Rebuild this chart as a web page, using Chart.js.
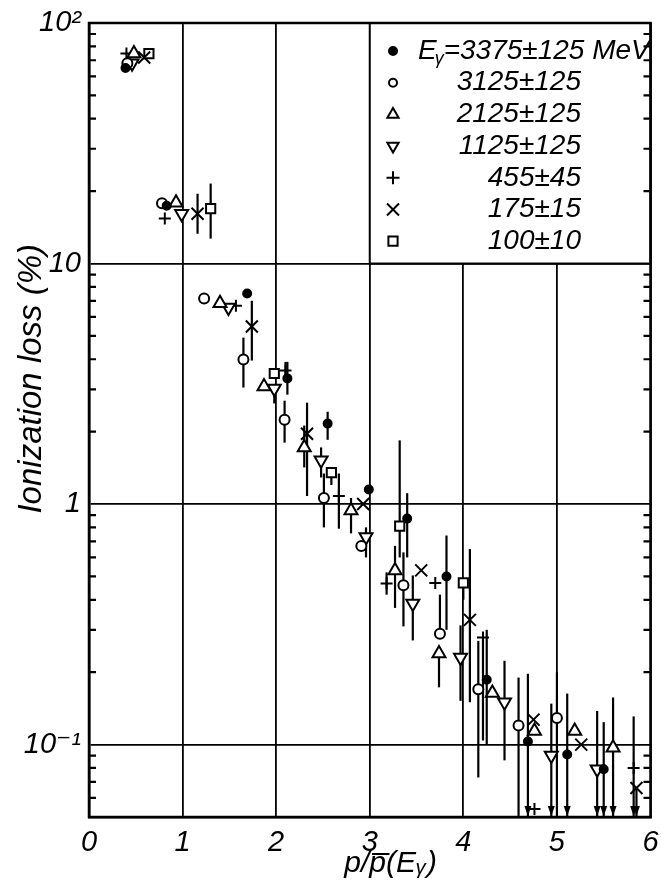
<!DOCTYPE html>
<html>
<head>
<meta charset="utf-8">
<script src="https://cdn.jsdelivr.net/npm/chart.js@4.4.0/dist/chart.umd.min.js"></script>
<style>
  html, body { margin: 0; padding: 0; background: #fff; }
</style>
</head>
<body>
<canvas id="lossChart" width="661" height="885"></canvas>
<script>
// axis ticks
var xTickValues = [0, 1, 2, 3, 4, 5, 6];
var yTickValues = [0.1, 1, 10, 100];
var yTickLabels = ["10\u207B\u00B9", "1", "10", "10\u00B2"];

// legend: photon energy bins (MeV)
var energies = ["3375\u00B1125", "3125\u00B1125", "2125\u00B1125", "1125\u00B1125", "455\u00B145", "175\u00B115", "100\u00B110"];

// errLo: null = no bar below, 0 = upper limit (arrow to axis), 0.05 = bar to axis
var e3375X = [0.39, 0.83, 1.69, 2.12, 2.55, 2.99, 3.40, 3.82, 4.25, 4.69, 5.11, 5.50];
var e3375Y = [65, 17.4, 7.5, 3.33, 2.16, 1.15, 0.87, 0.50, 0.186, 0.103, 0.091, 0.079];
var e3375Lo = [null, null, null, 2.85, 1.85, null, 0.6, 0.30, 0.10, 0, 0, 0];
var e3375Hi = [null, null, null, 3.9, 2.42, null, 1.11, 0.74, 0.30, 0.197, 0.163, 0.124];

var e3125X = [0.41, 0.78, 1.23, 1.65, 2.09, 2.51, 2.91, 3.36, 3.75, 4.16, 4.59, 5.00];
var e3125Y = [68, 17.8, 7.15, 3.99, 2.24, 1.06, 0.67, 0.46, 0.289, 0.17, 0.12, 0.129];
var e3125Lo = [null, null, null, 3.05, 1.80, 0.80, null, 0.31, null, 0.073, 0.05, 0.05];
var e3125Hi = [null, null, null, 4.92, 2.69, 1.34, null, 0.63, 0.42, 0.27, 0.19, 0.2];

var e2125X = [0.48, 0.93, 1.40, 1.87, 2.30, 2.80, 3.27, 3.74, 4.31, 4.76, 5.19, 5.60];
var e2125Y = [74.6, 17.9, 6.83, 3.08, 1.72, 0.94, 0.53, 0.239, 0.164, 0.114, 0.114, 0.097];
var e2125Lo = [null, null, null, null, 1.42, 0.755, 0.37, 0.173, null, null, null, 0];
var e2125Hi = [null, null, null, null, 2.12, 1.06, 0.67, null, null, null, null, 0.157];

var e1125X = [0.46, 0.99, 1.49, 1.98, 2.48, 2.96, 3.46, 3.97, 4.44, 4.94, 5.43];
var e1125Y = [68, 16.1, 6.56, 3.02, 1.52, 0.73, 0.386, 0.23, 0.15, 0.090, 0.079];
var e1125Lo = [null, null, null, 2.62, 1.29, 0.6, 0.271, 0.152, 0.086, 0, 0];
var e1125Hi = [null, null, null, null, 1.72, 0.8, 0.505, 0.313, 0.223, 0.148, 0.138];

var e455X = [0.40, 0.81, 1.57, 2.10, 2.67, 3.18, 3.70, 4.21, 4.76, 5.82];
var e455Y = [74.6, 15.4, 6.68, 3.59, 1.08, 0.467, 0.47, 0.279, 0.054, 0.080];
var e455Lo = [null, null, null, 3.3, 0.79, 0.42, null, 0.104, null, 0];
var e455Hi = [null, null, null, 3.9, 1.34, 0.52, null, null, null, 0.131];

var e175X = [0.59, 1.16, 1.74, 2.33, 2.93, 3.55, 4.07, 4.75, 5.26, 5.85];
var e175Y = [71.9, 16.1, 5.47, 1.96, 1.0, 0.53, 0.33, 0.127, 0.1, 0.066];
var e175Lo = [null, 13.3, 3.95, 1.08, null, null, 0.15, null, null, 0];
var e175Hi = [null, 19.5, 7.0, 2.64, null, null, 0.65, null, null, null];

var e100X = [0.64, 1.30, 1.98, 2.59, 3.32, 4.00];
var e100Y = [74.6, 16.9, 3.49, 1.35, 0.81, 0.47];
var e100Lo = [null, 12.7, null, 1.2, 0.6, 0.4];
var e100Hi = [null, 21.5, null, null, 1.84, null];

var FONT = "'Liberation Sans', 'DejaVu Sans', sans-serif";

function pts(xs, ys) {
  return xs.map(function (v, i) { return { x: v, y: ys[i] }; });
}

// marker look for each series, plot size and legend size
var markers = [
  { style: "circle", fill: "#000", r: 4, lr: 4, rot: 0 },
  { style: "circle", fill: "#fff", r: 5, lr: 4, rot: 0 },
  { style: "triangle", fill: "#fff", r: 7.5, lr: 6.5, rot: 0 },
  { style: "triangle", fill: "#fff", r: 7.5, lr: 6.5, rot: 180 },
  { style: "cross", fill: "#fff", r: 6, lr: 6.5, rot: 0 },
  { style: "crossRot", fill: "#fff", r: 8.5, lr: 8.5, rot: 0 },
  { style: "rect", fill: "#fff", r: 6.5, lr: 6.5, rot: 0 },
];

var series = [
  [e3375X, e3375Y, e3375Lo, e3375Hi],
  [e3125X, e3125Y, e3125Lo, e3125Hi],
  [e2125X, e2125Y, e2125Lo, e2125Hi],
  [e1125X, e1125Y, e1125Lo, e1125Hi],
  [e455X, e455Y, e455Lo, e455Hi],
  [e175X, e175Y, e175Lo, e175Hi],
  [e100X, e100Y, e100Lo, e100Hi],
];

var datasets = series.map(function (s, k) {
  var m = markers[k];
  return {
    label: energies[k],
    data: pts(s[0], s[1]),
    errLo: s[2],
    errHi: s[3],
    pointStyle: m.style,
    pointRadius: m.r,
    pointRotation: m.rot,
    pointBorderWidth: 2,
    pointBorderColor: "#000",
    pointBackgroundColor: m.fill,
    showLine: false,
  };
});

// error bars, legend box, minor ticks, frame
var decorations = {
  id: "decorations",
  beforeDatasetsDraw: function (chart) {
    var ctx = chart.ctx, a = chart.chartArea, x = chart.scales.x, y = chart.scales.y;
    ctx.save();
    // legend panel covers the grid in the upper right
    var lx = x.getPixelForValue(3), ly = y.getPixelForValue(10);
    ctx.fillStyle = "#fff";
    ctx.fillRect(lx, a.top, a.right - lx, ly - a.top);
    ctx.strokeStyle = "#000";
    ctx.lineWidth = 2;
    ctx.strokeRect(lx, a.top, a.right - lx, ly - a.top);

    // inward minor ticks on both sides
    ctx.lineWidth = 2.2;
    for (var d = -2; d <= 1; d++) {
      for (var m = 2; m <= 9; m++) {
        var v = m * Math.pow(10, d);
        if (v < 0.05 || v > 100) continue;
        var py = y.getPixelForValue(v);
        ctx.beginPath();
        ctx.moveTo(a.left, py); ctx.lineTo(a.left + 7, py);
        ctx.moveTo(a.right, py); ctx.lineTo(a.right - 7, py);
        ctx.stroke();
      }
    }

    // error bars
    ctx.lineWidth = 2.2;
    ctx.fillStyle = "#000";
    chart.data.datasets.forEach(function (ds) {
      ds.data.forEach(function (p, i) {
        var lo = ds.errLo[i], hi = ds.errHi[i];
        if (lo == null && hi == null) return;
        var px = x.getPixelForValue(p.x);
        var top = y.getPixelForValue(hi != null ? hi : p.y);
        var bot = lo === 0 ? a.bottom - 1 : y.getPixelForValue(lo != null ? lo : p.y);
        ctx.beginPath();
        ctx.moveTo(px, top);
        ctx.lineTo(px, bot);
        ctx.stroke();
        if (lo === 0) {
          ctx.beginPath();
          ctx.moveTo(px - 3.5, bot - 10);
          ctx.lineTo(px + 3.5, bot - 10);
          ctx.lineTo(px, bot);
          ctx.closePath();
          ctx.fill();
        }
      });
    });
    ctx.restore();
  },
  afterDraw: function (chart) {
    var ctx = chart.ctx, a = chart.chartArea;
    ctx.save();
    ctx.strokeStyle = "#000";
    ctx.lineWidth = 2.5;
    ctx.strokeRect(a.left, a.top, a.right - a.left, a.bottom - a.top);

    // legend entries
    var symX = 393, textX = 418, rowY = 51, step = 31.7;
    ctx.fillStyle = "#000";
    ctx.textBaseline = "middle";
    markers.forEach(function (m, k) {
      var cy = rowY + k * step;
      ctx.save();
      ctx.fillStyle = m.fill;
      ctx.strokeStyle = "#000";
      ctx.lineWidth = 2;
      Chart.helpers.drawPoint(ctx, { pointStyle: m.style, radius: m.lr, rotation: m.rot, borderWidth: 2 }, symX, cy);
      ctx.restore();
      ctx.font = "italic 28px " + FONT;
      if (k === 0) {
        ctx.textAlign = "left";
        ctx.fillText("E", textX, cy);
        var w = ctx.measureText("E").width;
        ctx.font = "italic 18px " + FONT;
        ctx.fillText("\u03B3", textX + w - 2, cy + 8);
        ctx.font = "italic 28px " + FONT;
        ctx.fillText("=" + energies[0] + " MeV", textX + w + 7, cy);
      } else {
        ctx.textAlign = "right";
        ctx.fillText(energies[k], 581, cy);
      }
    });
    ctx.restore();
  },
};

var ctx = document.getElementById("lossChart").getContext("2d");
var lossChart = new Chart(ctx, {
  type: "scatter",
  data: { datasets: datasets },
  options: {
    responsive: false,
    animation: false,
    layout: { padding: { top: 23, right: 3, left: 0, bottom: 0 } },
    plugins: { legend: { display: false }, tooltip: { enabled: false } },
    scales: {
      x: {
        type: "linear",
        min: 0,
        max: 6,
        afterBuildTicks: function (s) {
          s.ticks = xTickValues.map(function (v) { return { value: v }; });
        },
        afterFit: function (s) {
          s.height = 68;
          s.paddingLeft = 0;
          s.paddingRight = 0;
        },
        ticks: {
          color: "#000",
          padding: 9,
          maxRotation: 0,
          font: { family: FONT, size: 29, style: "italic" },
          callback: function (v) { return String(v); },
        },
        grid: { color: "#000", lineWidth: 1.8, drawTicks: false },
        border: { color: "#000", width: 2.5 },
        title: {
          display: true,
          text: "     p/p\u0305(E\u1D67)",
          color: "#000",
          padding: { top: 0, bottom: 3 },
          font: { family: FONT, size: 30, style: "italic" },
        },
      },
      y: {
        type: "logarithmic",
        min: 0.05,
        max: 100,
        afterBuildTicks: function (s) {
          s.ticks = yTickValues.map(function (v) { return { value: v }; });
        },
        afterFit: function (s) {
          s.width = 89;
          s.paddingTop = 0;
          s.paddingBottom = 0;
        },
        ticks: {
          color: "#000",
          padding: 8,
          font: { family: FONT, size: 29, style: "italic" },
          callback: function (v, i) { return yTickLabels[i]; },
        },
        grid: { color: "#000", lineWidth: 1.8, drawTicks: false },
        border: { color: "#000", width: 2.5 },
        title: {
          display: true,
          text: "         Ionization loss (%)",
          color: "#000",
          padding: { top: 12, bottom: 0 },
          font: { family: FONT, size: 33, style: "italic" },
        },
      },
    },
  },
  plugins: [decorations],
});
</script>
</body>
</html>
